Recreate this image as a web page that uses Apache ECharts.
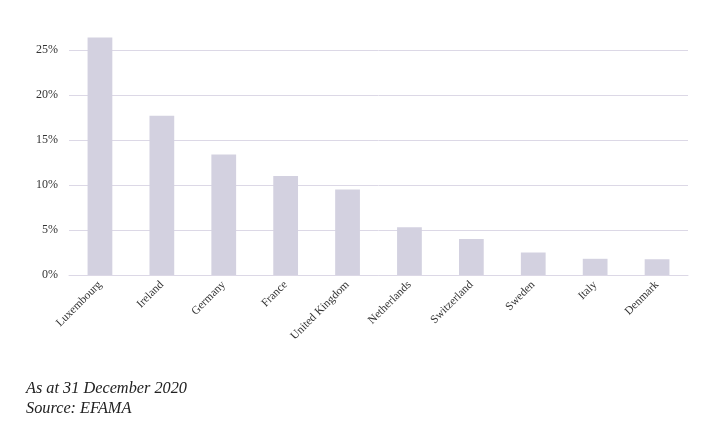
<!DOCTYPE html>
<html><head><meta charset="utf-8">
<script src="https://cdn.jsdelivr.net/npm/echarts@6/dist/echarts.min.js"></script>
<style>html,body{margin:0;padding:0;background:#fff}#c{width:721px;height:448px}</style>
</head><body><div id="c"></div>
<script>
var categories = ["Luxembourg","Ireland","Germany","France","United Kingdom","Netherlands","Switzerland","Sweden","Italy","Denmark"];
var shareValues = [26.4, 17.7, 13.4, 11.0, 9.5, 5.3, 4.0, 2.5, 1.8, 1.75];
var yTicks = [0, 5, 10, 15, 20, 25];
var footnotes = ["As at 31 December 2020", "Source: EFAMA"];

var chart = echarts.init(document.getElementById('c'));
var serif = "'Liberation Serif', 'DejaVu Serif', serif";
chart.setOption({
  animation: false,
  grid: {left: 69, right: 33, top: 50, bottom: 173},
  xAxis: {
    type: 'category', data: categories,
    axisLine: {lineStyle: {color: '#dcd8e6', width: 1}},
    axisTick: {show: false},
    axisLabel: {rotate: 45, color: '#333', fontFamily: serif, fontSize: 11.5, margin: 8, interval: 0}
  },
  yAxis: {
    type: 'value', min: 0, max: 25, interval: 5,
    axisLine: {show: false}, axisTick: {show: false},
    splitLine: {lineStyle: {color: '#dcd8e6', width: 1}},
    axisLabel: {color: '#333', fontFamily: serif, fontSize: 12, margin: 11,
      formatter: function(v){ return yTicks.indexOf(v) >= 0 ? v + '%' : ''; }}
  },
  series: [{
    type: 'bar', data: shareValues, barWidth: '40%', clip: false,
    itemStyle: {color: '#d3d1e0'}
  }],
  graphic: [{
    type: 'text', left: 26, top: 379,
    style: {text: footnotes.join('\n'), fill: '#222', font: "italic 16.3px " + serif, lineHeight: 20}
  }]
});
</script></body></html>
